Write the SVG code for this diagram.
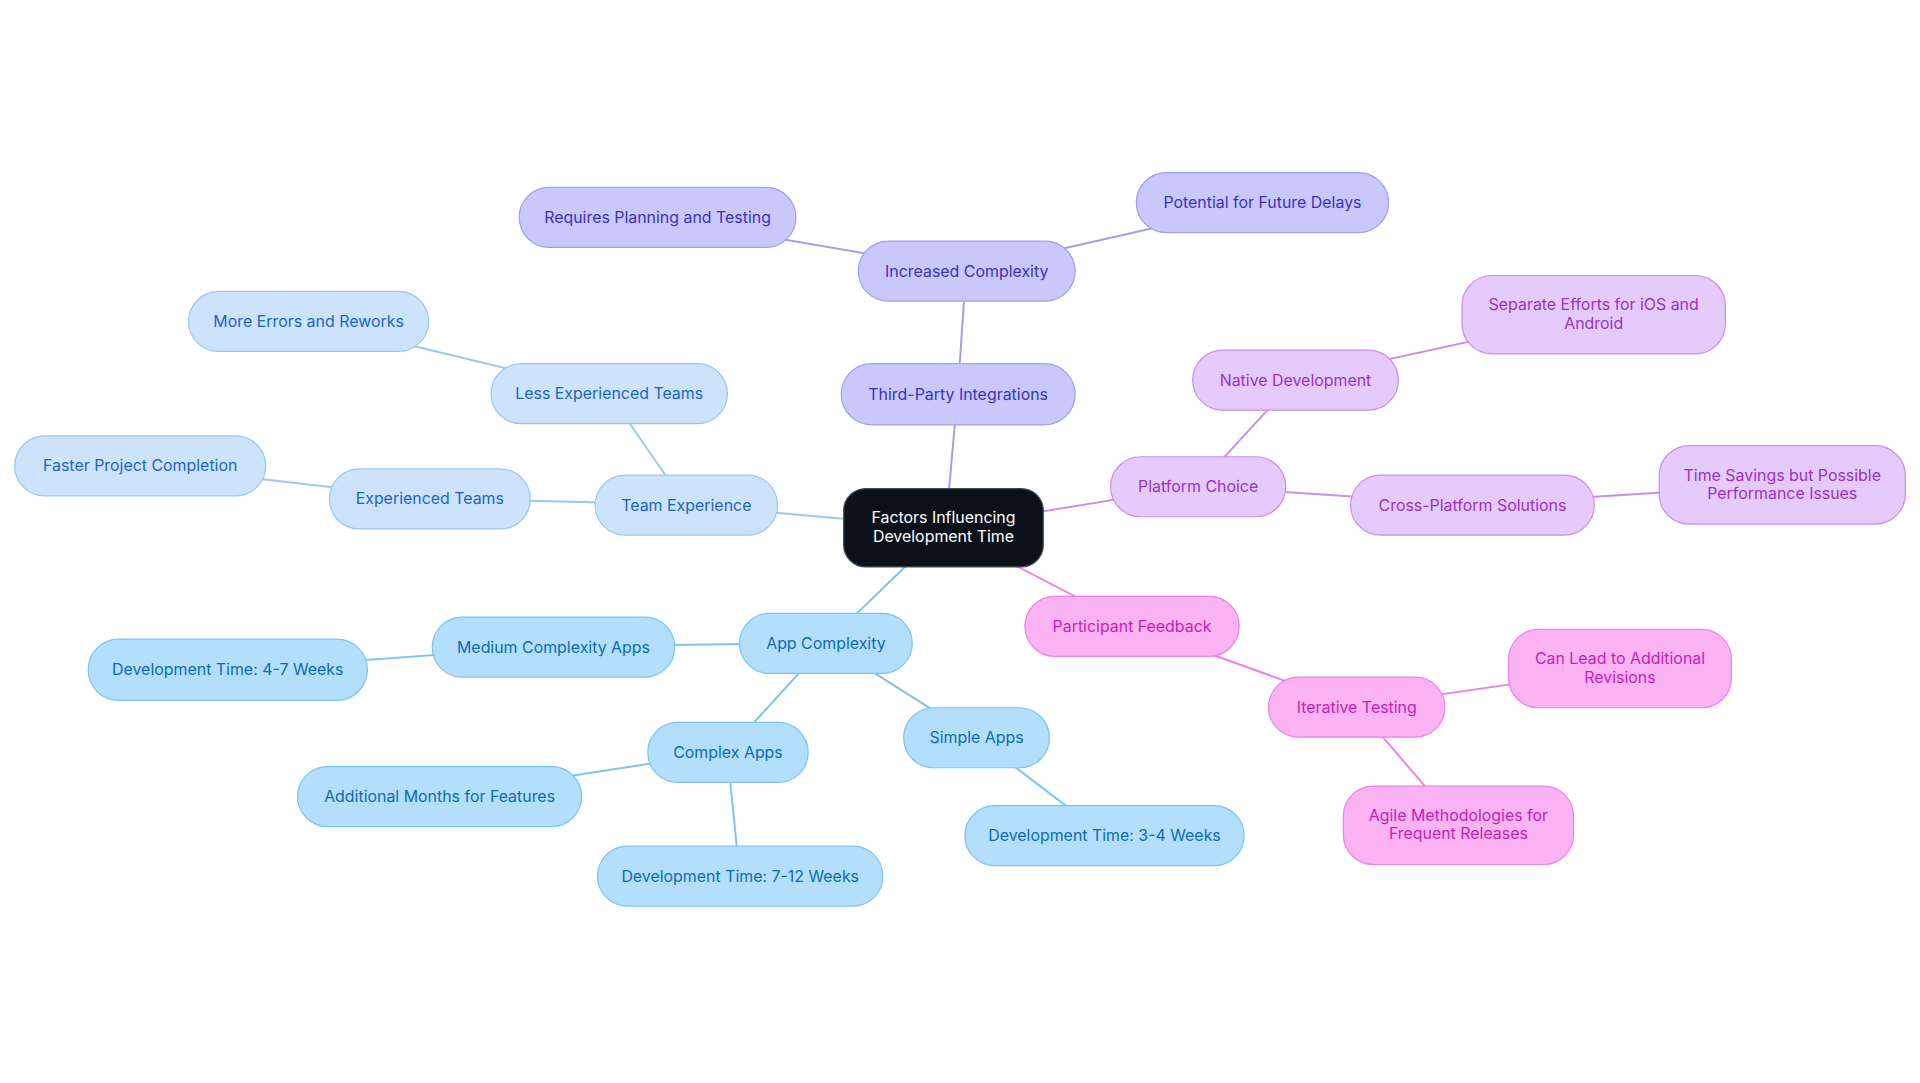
<svg xmlns="http://www.w3.org/2000/svg" width="1920" height="1083" viewBox="0 0 1920 1083">
<style>
text{font-family:Inter,"Noto Sans",sans-serif;font-size:13px;text-anchor:middle;dominant-baseline:central}
rect{stroke-width:1}
.b rect{fill:#cce3fb;stroke:#9ac7f2}.b text{fill:#1a66c8}
.a rect{fill:#b3dffc;stroke:#7cc3f3}.a text{fill:#0d6bb5}
.v rect{fill:#c9c8fb;stroke:#a09df3}.v text{fill:#3a31c4}
.p rect{fill:#e5cbfb;stroke:#c98df0}.p text{fill:#9a2fd3}
.k rect{fill:#fbb3f3;stroke:#f07fe6}.k text{fill:#c51fb5}
#edges line{stroke-width:1.6;fill:none}
.eb{stroke:#9ac7f2}.ea{stroke:#7cc3f3}.ev{stroke:#a09df3}.ep{stroke:#c98df0}.ek{stroke:#f07fe6}
</style>
<rect width="1920" height="1083" fill="#fff"/>
<g transform="scale(1.2245)">
<g id="edges">
<line class="ev" x1="775" y1="400" x2="782" y2="322"/>
<line class="ev" x1="782" y1="322" x2="789" y2="221"/>
<line class="ev" x1="789" y1="221" x2="537" y2="178"/>
<line class="ev" x1="789" y1="221" x2="1031" y2="166"/>
<line class="eb" x1="770" y1="431" x2="560" y2="412"/>
<line class="eb" x1="560" y1="412" x2="497" y2="321"/>
<line class="eb" x1="497" y1="321" x2="252" y2="262"/>
<line class="eb" x1="560" y1="412" x2="351" y2="407"/>
<line class="eb" x1="351" y1="407" x2="114" y2="380"/>
<line class="ea" x1="740" y1="462" x2="675" y2="525"/>
<line class="ea" x1="675" y1="525" x2="452" y2="528"/>
<line class="ea" x1="452" y1="528" x2="186" y2="547"/>
<line class="ea" x1="675" y1="525" x2="594" y2="614"/>
<line class="ea" x1="594" y1="614" x2="359" y2="650"/>
<line class="ea" x1="594" y1="614" x2="604" y2="715"/>
<line class="ea" x1="675" y1="525" x2="797" y2="602"/>
<line class="ea" x1="797" y1="602" x2="902" y2="682"/>
<line class="ep" x1="770" y1="431" x2="978" y2="397"/>
<line class="ep" x1="978" y1="397" x2="1058" y2="310"/>
<line class="ep" x1="1058" y1="310" x2="1301" y2="257"/>
<line class="ep" x1="978" y1="397" x2="1202" y2="412"/>
<line class="ep" x1="1202" y1="412" x2="1455" y2="396"/>
<line class="ek" x1="770" y1="431" x2="924" y2="511"/>
<line class="ek" x1="924" y1="511" x2="1108" y2="577"/>
<line class="ek" x1="1108" y1="577" x2="1323" y2="546"/>
<line class="ek" x1="1108" y1="577" x2="1191" y2="674"/>
</g>
<g id="root"><rect x="689" y="399" width="163" height="64" rx="18" fill="#0b111b" stroke="#444b55"/><text x="770.5" y="423" fill="#fff">Factors Influencing</text><text x="770.5" y="438" fill="#fff">Development Time</text></g>
<g id="n1" class="v"><rect x="687" y="297" width="191" height="50" rx="25"/><text x="782.5" y="322">Third-Party Integrations</text></g>
<g id="n2" class="v"><rect x="701" y="197" width="177" height="49" rx="24.5"/><text x="789.5" y="221.5">Increased Complexity</text></g>
<g id="n3" class="v"><rect x="424" y="153" width="226" height="49" rx="24.5"/><text x="537" y="177.5">Requires Planning and Testing</text></g>
<g id="n4" class="v"><rect x="928" y="141" width="206" height="49" rx="24.5"/><text x="1031" y="165.5">Potential for Future Delays</text></g>
<g id="n5" class="b"><rect x="486" y="388" width="149" height="49" rx="24.5"/><text x="560.5" y="412.5">Team Experience</text></g>
<g id="n6" class="b"><rect x="401" y="297" width="193" height="49" rx="24.5"/><text x="497.5" y="321.5">Less Experienced Teams</text></g>
<g id="n7" class="b"><rect x="154" y="238" width="196" height="49" rx="24.5"/><text x="252" y="262.5">More Errors and Reworks</text></g>
<g id="n8" class="b"><rect x="269" y="383" width="164" height="49" rx="24.5"/><text x="351" y="407.5">Experienced Teams</text></g>
<g id="n9" class="b"><rect x="12" y="356" width="205" height="49" rx="24.5"/><text x="114.5" y="380.5">Faster Project Completion</text></g>
<g id="n10" class="a"><rect x="604" y="501" width="141" height="49" rx="24.5"/><text x="674.5" y="525.5">App Complexity</text></g>
<g id="n11" class="a"><rect x="353" y="504" width="198" height="49" rx="24.5"/><text x="452" y="528.5">Medium Complexity Apps</text></g>
<g id="n12" class="a"><rect x="72" y="522" width="228" height="50" rx="25"/><text x="186" y="547">Development Time: 4-7 Weeks</text></g>
<g id="n13" class="a"><rect x="529" y="590" width="131" height="49" rx="24.5"/><text x="594.5" y="614.5">Complex Apps</text></g>
<g id="n14" class="a"><rect x="243" y="626" width="232" height="49" rx="24.5"/><text x="359" y="650.5">Additional Months for Features</text></g>
<g id="n15" class="a"><rect x="488" y="691" width="233" height="49" rx="24.5"/><text x="604.5" y="715.5">Development Time: 7-12 Weeks</text></g>
<g id="n16" class="a"><rect x="738" y="578" width="119" height="49" rx="24.5"/><text x="797.5" y="602.5">Simple Apps</text></g>
<g id="n17" class="a"><rect x="788" y="658" width="228" height="49" rx="24.5"/><text x="902" y="682.5">Development Time: 3-4 Weeks</text></g>
<g id="n18" class="p"><rect x="907" y="373" width="143" height="49" rx="24.5"/><text x="978.5" y="397.5">Platform Choice</text></g>
<g id="n19" class="p"><rect x="974" y="286" width="168" height="49" rx="24.5"/><text x="1058" y="310.5">Native Development</text></g>
<g id="n20" class="p"><rect x="1194" y="225" width="215" height="64" rx="24.5"/><text x="1301.5" y="249">Separate Efforts for iOS and</text><text x="1301.5" y="264">Android</text></g>
<g id="n21" class="p"><rect x="1103" y="388" width="199" height="49" rx="24.5"/><text x="1202.5" y="412.5">Cross-Platform Solutions</text></g>
<g id="n22" class="p"><rect x="1355" y="364" width="201" height="64" rx="24.5"/><text x="1455.5" y="388">Time Savings but Possible</text><text x="1455.5" y="403">Performance Issues</text></g>
<g id="n23" class="k"><rect x="837" y="487" width="175" height="49" rx="24.5"/><text x="924.5" y="511.5">Participant Feedback</text></g>
<g id="n24" class="k"><rect x="1036" y="553" width="144" height="49" rx="24.5"/><text x="1108" y="577.5">Iterative Testing</text></g>
<g id="n25" class="k"><rect x="1232" y="514" width="182" height="64" rx="24.5"/><text x="1323" y="538">Can Lead to Additional</text><text x="1323" y="553">Revisions</text></g>
<g id="n26" class="k"><rect x="1097" y="642" width="188" height="64" rx="24.5"/><text x="1191" y="666">Agile Methodologies for</text><text x="1191" y="681">Frequent Releases</text></g>
</g>
</svg>
